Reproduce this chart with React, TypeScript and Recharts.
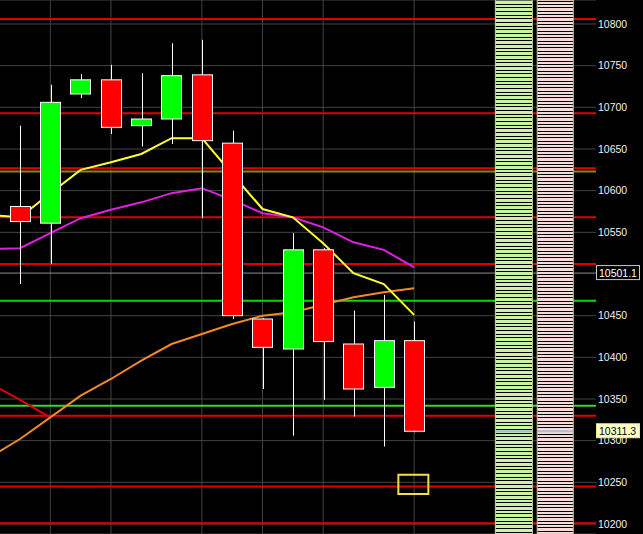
import React from 'react'
import { ComposedChart, Bar, Line, XAxis, YAxis, CartesianGrid, ReferenceLine, ReferenceArea } from 'recharts'

// index -1 is the bar just off the left edge, only the indicators have values there
const bars = [-1, 0, 1, 2, 3, 4, 5, 6, 7, 8, 9, 10, 11, 12, 13]
const opens = [null, 10581, 10561, 10716, 10733, 10678, 10686, 10739, 10657, 10446, 10410, 10529, 10416, 10364, 10420]
const highs = [null, 10678, 10727, 10740, 10751, 10741, 10777, 10781, 10672, 10447, 10549, 10531, 10456, 10475, 10443]
const lows = [null, 10488, 10512, 10711, 10668, 10653, 10656, 10567, 10446, 10362, 10306, 10349, 10329, 10293, 10310]
const closes = [null, 10563, 10706, 10733, 10676, 10686, 10738, 10660, 10450, 10412, 10529, 10419, 10362, 10420, 10311.3]

const maFast = [10571, 10568, 10597, 10625, 10634, 10644, 10663, 10663, 10620, 10578, 10568, 10537, 10501, 10488, 10451]
const maMid = [10530, 10531, 10549, 10567, 10577, 10586, 10597, 10603, 10589, 10573, 10568, 10556, 10538, 10529, 10508]
const maSlow = [10280, 10302, 10328, 10354, 10374, 10396, 10416, 10428, 10440, 10450, 10454, 10463, 10472, 10478, 10483]
const trendRed = [10369, 10349, 10328, null, null, null, null, null, null, null, null, null, null, null, null]

const redLevels = [10806, 10693, 10627, 10568, 10512, 10330, 10245, 10201]
const oliveLevels = [10623]
const greenLevels = [10468, 10342]
const dayLines = [1, 3, 6, 8, 10, 13]
// 10500 sits under the 10501.1 tag, so it has no label of its own
const priceTicks = [10200, 10250, 10300, 10350, 10400, 10450, 10550, 10600, 10650, 10700, 10750, 10800]

const lastPrice = 10311.3
const prevClose = 10501.1
const targetBox = { x1: 12.48, x2: 13.47, y1: 10236, y2: 10259 }
const bidCol = [15.68, 16.9]
const askCol = [17.06, 18.25]

const data = bars.map((b, i) => ({
  bar: b,
  range: opens[i] == null ? null : [lows[i], highs[i]],
  open: opens[i],
  high: highs[i],
  low: lows[i],
  close: closes[i],
  fast: maFast[i],
  mid: maMid[i],
  slow: maSlow[i],
  trend: trendRed[i],
}))

const FONT = '"Liberation Sans", Arial, sans-serif'

function Candle(props: any) {
  const { x, y, width, height, payload } = props
  if (!payload || payload.open == null) return null
  const top = Math.min(y, y + height)
  const h = Math.abs(height)
  const { open: o, close: c, high: hi, low: lo } = payload
  const py = (v: number) => (hi === lo ? top : top + ((hi - v) / (hi - lo)) * h)
  const cx = Math.round(x + width / 2) + 0.5
  const bt = py(Math.max(o, c))
  const bb = py(Math.min(o, c))
  return (
    <g>
      <line x1={cx} x2={cx} y1={top} y2={top + h} stroke="#ffffff" strokeWidth={1} />
      <rect x={Math.round(x) + 0.5} y={bt} width={Math.round(width) - 1} height={Math.max(bb - bt, 2)}
        fill={c >= o ? '#00ff00' : '#ff0000'} stroke="#ffffff" strokeWidth={1} />
    </g>
  )
}

function PriceTag(props: any) {
  const { viewBox, price, bg, fg, edge } = props
  if (!viewBox) return null
  const x = viewBox.x + viewBox.width
  const y = viewBox.y
  return (
    <g>
      <rect x={x + 0.5} y={y - 7.5} width={43} height={14} fill={bg} stroke={edge} />
      <text x={x + 3} y={y + 4} fill={fg} fontSize={10.5} fontFamily={FONT}>{price}</text>
    </g>
  )
}

export default function App() {
  return (
    <div style={{ position: 'fixed', left: 0, top: 0, width: 643, height: 534, background: '#000', overflow: 'hidden' }}>
      <ComposedChart width={643} height={534} data={data} margin={{ top: 0, right: 0, bottom: 0, left: 0 }}>
        <defs>
          <pattern id="bidStripes" patternUnits="userSpaceOnUse" width={8} height={11}>
            <rect x={0} y={0} width={8} height={11} fill="#ccf2a6" />
            <rect x={0} y={0} width={8} height={1} fill="#000" />
            <rect x={0} y={4} width={8} height={1} fill="#000" />
            <rect x={0} y={7} width={8} height={1} fill="#000" />
          </pattern>
          <pattern id="askStripes" patternUnits="userSpaceOnUse" width={8} height={10}>
            <rect x={0} y={0} width={8} height={10} fill="#f6dcd8" />
            <rect x={0} y={1} width={8} height={1} fill="#000" />
            <rect x={0} y={4} width={8} height={1} fill="#000" />
            <rect x={0} y={7} width={8} height={1} fill="#000" />
          </pattern>
        </defs>
        <CartesianGrid vertical={false} stroke="#444444" />
        <XAxis dataKey="bar" type="number" domain={[-0.66, 19.0]} allowDataOverflow hide />
        <YAxis orientation="right" width={47} domain={[10188, 10828.8]} allowDataOverflow ticks={priceTicks}
          axisLine={false} tickLine={false} tickSize={0} tickMargin={2}
          tick={{ fill: '#f0f0f0', fontSize: 10.5, fontFamily: FONT, textAnchor: 'start' }} />

        {dayLines.map((d) => (
          <ReferenceLine key={'d' + d} x={d} stroke="#444444" zIndex={-90} />
        ))}
        {redLevels.map((v) => (
          <ReferenceLine key={'r' + v} y={v} stroke="#e00000" strokeWidth={2} zIndex={-50} />
        ))}
        {oliveLevels.map((v) => (
          <ReferenceLine key={'o' + v} y={v} stroke="#8c8414" strokeWidth={2} zIndex={-50} />
        ))}
        {greenLevels.map((v, i) => (
          <ReferenceLine key={'g' + v} y={v} stroke={i === 0 ? '#00dd00' : '#3fcf3f'} strokeWidth={2} zIndex={-50} />
        ))}
        <ReferenceLine y={prevClose} stroke="#8a8a8a" zIndex={-40} />

        <Line dataKey="trend" stroke="#e00000" strokeWidth={2} dot={false} isAnimationActive={false} connectNulls={false} zIndex={350} />
        <Line dataKey="slow" stroke="#f08a28" strokeWidth={2} dot={false} isAnimationActive={false} zIndex={350} />
        <Line dataKey="mid" stroke="#e020e0" strokeWidth={2} dot={false} isAnimationActive={false} zIndex={350} />
        <Line dataKey="fast" stroke="#ffff30" strokeWidth={2} dot={false} isAnimationActive={false} zIndex={350} />
        <Bar dataKey="range" barSize={21} shape={<Candle />} isAnimationActive={false} zIndex={450} />

        <ReferenceArea x1={targetBox.x1} x2={targetBox.x2} y1={targetBox.y1} y2={targetBox.y2}
          fill="none" stroke="#f0e040" strokeWidth={2} fillOpacity={0} zIndex={700} />
        <ReferenceArea x1={bidCol[0]} x2={bidCol[1]} y1={10188} y2={10828.8} fill="url(#bidStripes)" fillOpacity={1}
          stroke="#c6d8a0" strokeWidth={1} zIndex={800} />
        <ReferenceArea x1={askCol[0]} x2={askCol[1]} y1={10188} y2={10828.8} fill="url(#askStripes)" fillOpacity={1}
          stroke="#c8c4a0" strokeWidth={1} zIndex={800} />
        <ReferenceLine segment={[{ x: bidCol[0], y: lastPrice }, { x: bidCol[1], y: lastPrice }]} stroke="#a8b8e8" strokeWidth={2} zIndex={850} />
        <ReferenceLine segment={[{ x: askCol[0], y: lastPrice }, { x: askCol[1], y: lastPrice }]} stroke="#a8b8e8" strokeWidth={2} zIndex={850} />

        <ReferenceLine y={prevClose} stroke="none" zIndex={2100}
          label={<PriceTag price="10501.1" bg="#000000" fg="#ffffff" edge="#c8c8c8" />} />
        <ReferenceLine y={lastPrice} stroke="none" zIndex={2100}
          label={<PriceTag price="10311.3" bg="#ffffc4" fg="#000000" edge="#e8e8a0" />} />
      </ComposedChart>
    </div>
  )
}
